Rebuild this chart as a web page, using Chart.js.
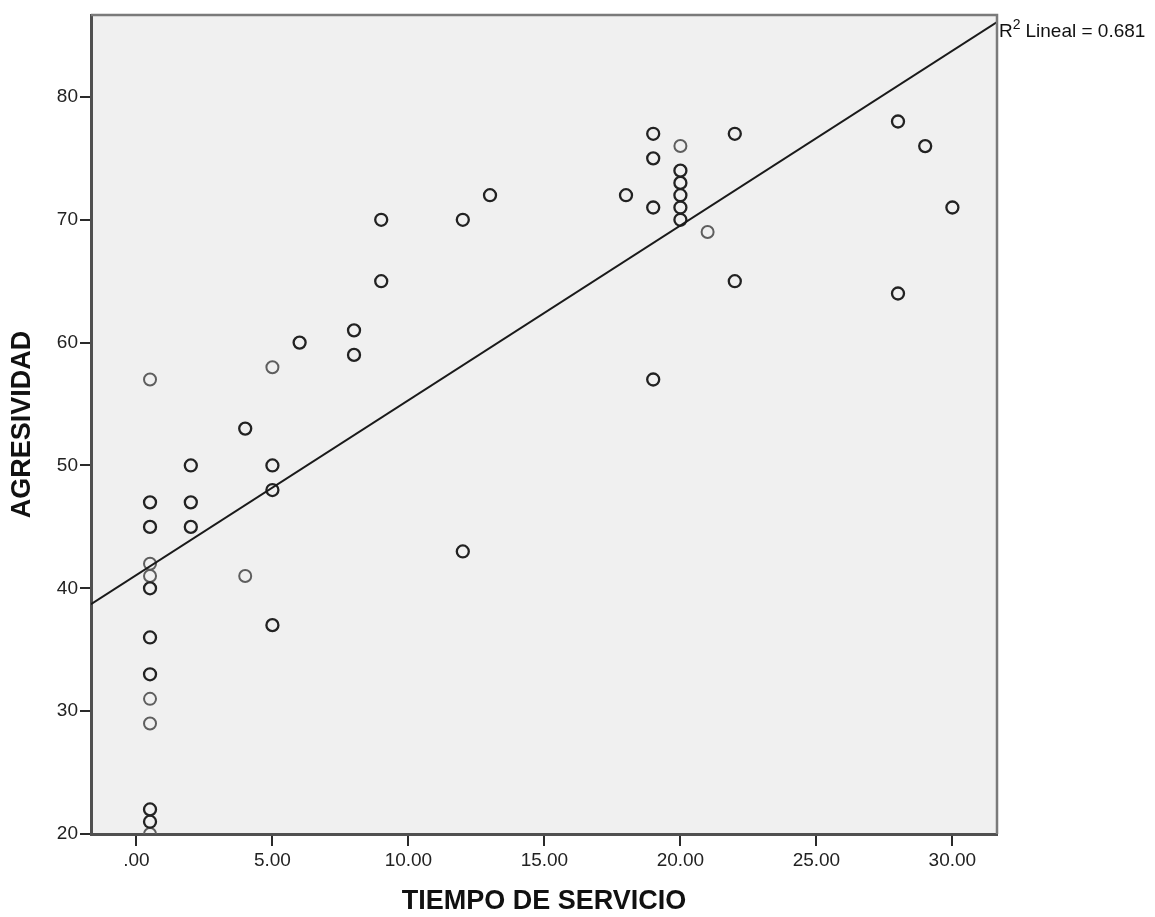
<!DOCTYPE html>
<html>
<head>
<meta charset="utf-8">
<script src="https://cdn.jsdelivr.net/npm/chart.js@4/dist/chart.umd.min.js"></script>
<style>
  html, body { margin: 0; padding: 0; background: #fff; }
  #wrap { width: 1155px; height: 917px; }
</style>
</head>
<body>
<div id="wrap"><canvas id="scatter"></canvas></div>
<script>
// points drawn once (thin/grey circles in the original)
const singleX = [0.5, 0.5, 0.5, 0.5, 0.5, 0.5, 4, 5, 20, 21];
const singleY = [57, 42, 41, 31, 29, 20, 41, 58, 76, 69];

// overlapping cases (dark circles)
const multiX = [0.5, 0.5, 0.5, 0.5, 0.5, 0.5, 0.5, 2, 2, 2, 4, 5, 5, 5, 6, 8, 8, 9, 9, 12, 12, 13, 18,
                19, 19, 19, 19, 20, 20, 20, 20, 20, 22, 22, 28, 28, 29, 30];
const multiY = [47, 45, 40, 36, 33, 22, 21, 50, 47, 45, 53, 50, 48, 37, 60, 61, 59, 70, 65, 70, 43, 72, 72,
                77, 75, 71, 57, 74, 73, 72, 71, 70, 77, 65, 78, 64, 76, 71];

// linear fit, read at the plot edges
const fitX = [-1.67, 31.64];
const fitY = [38.7, 86.1];

const xTicks = [0, 5, 10, 15, 20, 25, 30];
const yTicks = [20, 30, 40, 50, 60, 70, 80];
const X_MIN = -1.67, X_MAX = 31.64, Y_MIN = 20, Y_MAX = 86.67;

const toPts = (xs, ys) => xs.map((x, i) => ({ x, y: ys[i] }));

const FONT = "'Liberation Sans', Arial, sans-serif";

// background, frame and text labels
const decor = {
  id: "decor",
  beforeDraw(chart) {
    const { ctx, chartArea: a } = chart;
    ctx.save();
    ctx.fillStyle = "#f0f0f0";
    ctx.fillRect(a.left, a.top, a.right - a.left, a.bottom - a.top);
    ctx.restore();
  },
  afterDraw(chart) {
    const { ctx, chartArea: a } = chart;
    ctx.save();
    // top + right frame
    ctx.strokeStyle = "#7a7a7a";
    ctx.lineWidth = 2.5;
    ctx.beginPath();
    ctx.moveTo(a.left, a.top);
    ctx.lineTo(a.right, a.top);
    ctx.lineTo(a.right, a.bottom);
    ctx.stroke();

    // axis titles
    ctx.fillStyle = "#111";
    ctx.font = "bold 27px " + FONT;
    ctx.textAlign = "center";
    ctx.textBaseline = "middle";
    ctx.fillText("TIEMPO DE SERVICIO", (a.left + a.right) / 2, 902);
    ctx.translate(23, (a.top + a.bottom) / 2);
    ctx.rotate(-Math.PI / 2);
    ctx.fillText("AGRESIVIDAD", 0, 0);
    ctx.restore();

    // R² label
    ctx.save();
    ctx.fillStyle = "#111";
    ctx.textBaseline = "alphabetic";
    ctx.textAlign = "left";
    let x = a.right + 2;
    const base = 37;
    ctx.font = "19px " + FONT;
    ctx.fillText("R", x, base);
    x += ctx.measureText("R").width;
    ctx.font = "14px " + FONT;
    ctx.fillText("2", x, base - 8);
    x += ctx.measureText("2").width + 5;
    ctx.font = "19px " + FONT;
    ctx.fillText("Lineal = 0.681", x, base);
    ctx.restore();
  }
};

new Chart(document.getElementById("scatter"), {
  type: "scatter",
  data: {
    datasets: [
      {
        label: "fit",
        data: toPts(fitX, fitY),
        showLine: true,
        borderColor: "#1a1a1a",
        borderWidth: 2,
        pointRadius: 0,
        clip: 0,
        order: 0,
      },
      {
        label: "single",
        data: toPts(singleX, singleY),
        pointRadius: 6,
        pointBorderWidth: 2,
        pointBorderColor: "#5e5e5e",
        pointBackgroundColor: "rgba(0,0,0,0)",
        clip: 0,
        order: 2,
      },
      {
        label: "multi",
        data: toPts(multiX, multiY),
        pointRadius: 6,
        pointBorderWidth: 2.3,
        pointBorderColor: "#222",
        pointBackgroundColor: "rgba(0,0,0,0)",
        clip: 0,
        order: 1,
      },
    ],
  },
  options: {
    responsive: true,
    maintainAspectRatio: false,
    animation: false,
    layout: { padding: { left: 0, right: 158, top: 15, bottom: 0 } },
    plugins: { legend: { display: false }, tooltip: { enabled: false } },
    scales: {
      x: {
        type: "linear",
        min: X_MIN,
        max: X_MAX,
        afterBuildTicks: (s) => { s.ticks = xTicks.map(v => ({ value: v })); },
        afterFit: (s) => { s.height = 83; },
        border: { display: true, color: "#505050", width: 3 },
        grid: { display: true, drawOnChartArea: false, drawTicks: true, tickLength: 12, color: "#2a2a2a", lineWidth: 2 },
        ticks: {
          padding: 3,
          color: "#222",
          font: { family: FONT, size: 19 },
          maxRotation: 0,
          callback: (v) => v === 0 ? ".00" : v.toFixed(2),
        },
      },
      y: {
        type: "linear",
        min: Y_MIN,
        max: Y_MAX,
        afterBuildTicks: (s) => { s.ticks = yTicks.map(v => ({ value: v })); },
        afterFit: (s) => { s.width = 91; },
        border: { display: true, color: "#505050", width: 3 },
        grid: { display: true, drawOnChartArea: false, drawTicks: true, tickLength: 11, color: "#2a2a2a", lineWidth: 2 },
        ticks: {
          padding: 2,
          color: "#222",
          font: { family: FONT, size: 19 },
        },
      },
    },
  },
  plugins: [decor],
});
</script>
</body>
</html>
